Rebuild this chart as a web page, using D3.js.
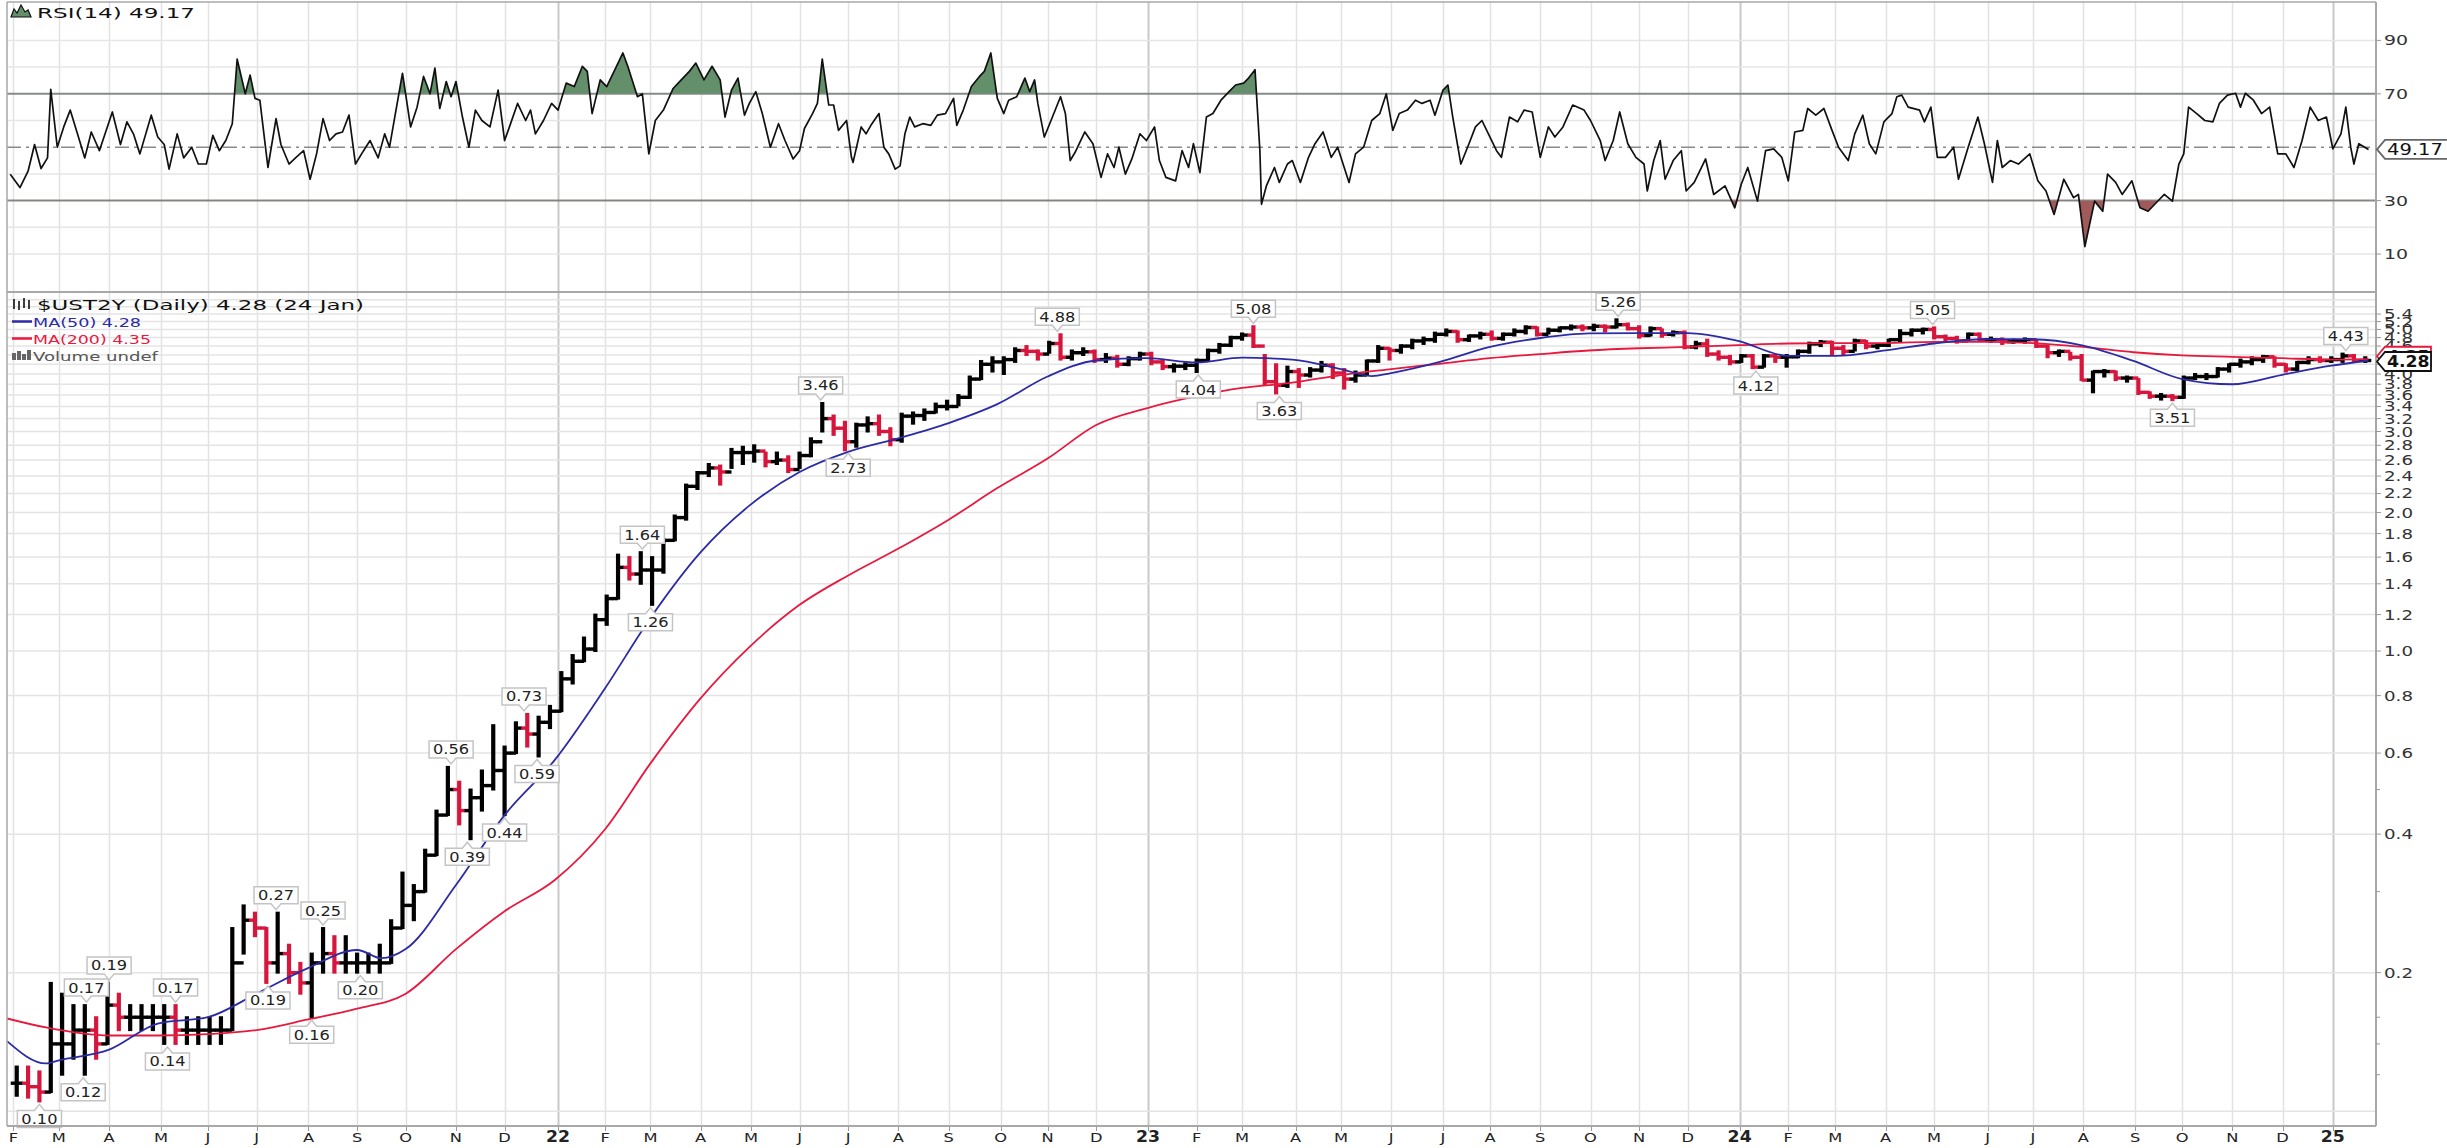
<!DOCTYPE html>
<html><head><meta charset="utf-8">
<script src="https://cdn.jsdelivr.net/npm/d3@7"></script>
<style>body{margin:0;background:#fff}svg{display:block}text{font-family:"DejaVu Sans",Verdana,sans-serif}</style>
</head><body>
<svg id="c" width="2447" height="1148"></svg>
<script>
// ---------------- DATA ----------------
// weekly bars: week i starts on weekStart + 7*i days
const weekStart = "2021-02-01";
const weekHigh = [
.125,.125,.122,.19,.18,.17,.17,.16,.19,.18,
.17,.17,.17,.17,.17,.16,.16,.16,.16,.25,
.28,.27,.25,.27,.23,.21,.22,.25,.24,.24,
.22,.22,.23,.26,.33,.31,.37,.45,.56,.52,
.50,.55,.69,.62,.70,.73,.72,.76,.90,.98,
1.07,1.20,1.32,1.62,1.60,1.64,1.60,1.75,1.97,2.30,
2.45,2.55,2.53,2.75,2.78,2.80,2.70,2.70,2.65,2.70,
2.90,3.46,3.25,3.15,3.12,3.22,3.25,3.05,3.28,3.30,
3.35,3.45,3.50,3.60,3.95,4.27,4.35,4.35,4.55,4.60,
4.50,4.70,4.88,4.50,4.55,4.50,4.42,4.38,4.35,4.45,
4.45,4.28,4.20,4.22,4.30,4.52,4.65,4.82,4.90,5.08,
4.40,4.20,4.15,4.10,4.12,4.25,4.20,4.10,4.05,4.28,
4.60,4.55,4.62,4.75,4.80,4.92,5.00,4.95,4.85,4.92,
4.95,4.90,5.00,5.08,5.05,5.02,5.05,5.10,5.10,5.12,
5.10,5.26,5.15,5.08,5.05,5.00,4.95,4.95,4.70,4.75,
4.48,4.38,4.40,4.40,4.40,4.40,4.40,4.50,4.68,4.72,
4.70,4.60,4.75,4.72,4.65,4.75,4.98,5.00,5.02,5.05,
4.85,4.82,4.90,4.90,4.80,4.78,4.75,4.78,4.72,4.60,
4.50,4.45,4.40,4.05,4.08,4.05,3.95,3.90,3.65,3.62,
3.60,3.95,4.00,4.00,4.12,4.20,4.30,4.35,4.38,4.35,
4.20,4.25,4.35,4.35,4.35,4.43,4.40,4.35];
const weekLow = [
.108,.107,.105,.11,.12,.13,.12,.13,.14,.15,
.15,.15,.15,.14,.14,.14,.14,.14,.14,.15,
.22,.24,.19,.20,.19,.18,.16,.20,.20,.20,
.20,.20,.20,.21,.25,.26,.30,.36,.44,.42,
.39,.45,.50,.44,.60,.62,.59,.68,.74,.85,
.95,1.00,1.14,1.30,1.43,1.40,1.26,1.48,1.74,1.93,
2.25,2.40,2.30,2.50,2.55,2.58,2.52,2.55,2.45,2.50,
2.65,3.00,2.95,2.73,2.78,3.00,2.95,2.80,2.85,3.12,
3.18,3.30,3.35,3.42,3.55,3.90,4.05,4.00,4.25,4.40,
4.30,4.45,4.30,4.30,4.40,4.25,4.25,4.15,4.18,4.30,
4.20,4.10,4.05,4.10,4.04,4.28,4.45,4.60,4.75,4.58,
3.80,3.63,3.75,3.75,3.95,4.05,3.92,3.72,3.85,3.98,
4.25,4.30,4.45,4.55,4.65,4.70,4.85,4.70,4.72,4.78,
4.75,4.75,4.85,4.90,4.85,4.90,4.95,5.00,4.98,4.98,
4.95,5.05,5.00,4.80,4.85,4.82,4.85,4.55,4.55,4.38,
4.30,4.20,4.25,4.12,4.15,4.25,4.15,4.35,4.45,4.60,
4.40,4.40,4.50,4.55,4.55,4.60,4.70,4.85,4.90,4.78,
4.70,4.68,4.72,4.72,4.70,4.65,4.68,4.68,4.58,4.35,
4.38,4.30,3.88,3.65,3.95,3.88,3.85,3.62,3.55,3.52,
3.51,3.55,3.90,3.90,3.95,4.05,4.15,4.20,4.25,4.15,
4.05,4.08,4.22,4.25,4.25,4.25,4.25,4.25];
const weekClose = [
.115,.113,.11,.14,.14,.15,.15,.14,.17,.16,
.16,.16,.16,.16,.15,.15,.15,.15,.15,.21,
.26,.25,.21,.22,.20,.19,.21,.22,.21,.21,
.21,.21,.21,.25,.28,.30,.36,.44,.50,.45,
.48,.51,.55,.60,.68,.66,.70,.74,.87,.95,
1.01,1.17,1.30,1.52,1.47,1.50,1.50,1.74,1.95,2.28,
2.44,2.50,2.45,2.70,2.70,2.72,2.58,2.60,2.48,2.66,
2.85,3.20,3.05,2.85,3.10,3.12,3.00,2.88,3.24,3.25,
3.30,3.40,3.40,3.56,3.90,4.20,4.25,4.30,4.50,4.48,
4.42,4.66,4.35,4.45,4.47,4.30,4.33,4.20,4.32,4.42,
4.25,4.15,4.16,4.18,4.28,4.50,4.62,4.80,4.86,4.60,
3.85,3.78,4.05,3.98,4.08,4.18,4.02,3.90,3.98,4.27,
4.55,4.50,4.60,4.72,4.75,4.88,4.95,4.75,4.84,4.88,
4.78,4.88,4.95,5.05,4.88,4.98,5.04,5.06,5.04,5.08,
5.06,5.12,5.02,4.85,5.02,4.88,4.92,4.58,4.65,4.42,
4.35,4.25,4.38,4.14,4.38,4.35,4.36,4.48,4.65,4.69,
4.55,4.48,4.72,4.60,4.62,4.75,4.90,4.98,5.00,4.82,
4.78,4.72,4.88,4.75,4.75,4.70,4.72,4.75,4.60,4.45,
4.48,4.35,3.88,4.05,4.05,3.92,3.92,3.65,3.58,3.58,
3.56,3.92,3.95,3.95,4.10,4.20,4.25,4.30,4.36,4.20,
4.10,4.24,4.30,4.28,4.30,4.38,4.28,4.28];

// moving averages
const ma50Dates = ["2021-01-28","2021-02-21","2021-03-01","2021-04-01","2021-05-01","2021-06-01","2021-07-01","2021-08-01","2021-09-01","2021-09-16","2021-10-01","2021-11-01","2021-12-01","2022-01-01","2022-02-01","2022-03-01","2022-04-01","2022-05-01","2022-06-01","2022-07-01","2022-08-01","2022-09-01","2022-10-01","2022-11-01","2022-12-01","2023-01-01","2023-02-01","2023-03-01","2023-04-01","2023-05-01","2023-05-20","2023-06-01","2023-07-01","2023-08-01","2023-09-01","2023-10-01","2023-11-01","2023-12-01","2024-01-01","2024-02-01","2024-03-01","2024-04-01","2024-05-01","2024-06-01","2024-07-01","2024-08-01","2024-09-01","2024-10-01","2024-11-01","2024-12-01","2025-01-01","2025-01-24"];
const ma50Values = [.142,.127,.129,.136,.155,.160,.180,.204,.224,.215,.225,.31,.44,.58,.83,1.18,1.64,2.07,2.45,2.71,2.90,3.13,3.44,3.95,4.28,4.33,4.24,4.34,4.30,4.10,3.96,4.02,4.25,4.58,4.79,4.90,4.91,4.91,4.72,4.38,4.38,4.50,4.66,4.76,4.76,4.61,4.27,3.90,3.80,3.98,4.17,4.28];
const ma200Dates = ["2021-01-28","2021-02-21","2021-04-01","2021-05-01","2021-06-01","2021-07-01","2021-08-01","2021-09-01","2021-10-01","2021-11-01","2021-12-01","2022-01-01","2022-02-01","2022-03-01","2022-04-01","2022-05-01","2022-06-01","2022-07-01","2022-08-01","2022-09-01","2022-10-01","2022-11-01","2022-12-01","2023-01-01","2023-02-01","2023-03-01","2023-04-01","2023-05-01","2023-06-01","2023-07-01","2023-08-01","2023-09-01","2023-10-01","2023-11-01","2023-12-01","2024-01-01","2024-02-01","2024-03-01","2024-04-01","2024-05-01","2024-06-01","2024-07-01","2024-08-01","2024-09-01","2024-10-01","2024-11-01","2024-12-01","2025-01-01","2025-01-24"];
const ma200Values = [.159,.152,.146,.146,.147,.150,.158,.167,.180,.225,.272,.318,.41,.57,.79,1.02,1.26,1.46,1.67,1.93,2.26,2.62,3.10,3.37,3.58,3.73,3.83,3.98,4.10,4.21,4.33,4.42,4.50,4.55,4.58,4.62,4.66,4.67,4.67,4.70,4.70,4.67,4.58,4.46,4.39,4.36,4.33,4.30,4.31];

// RSI(14): day offsets from rsiStart, and values
const rsiStart = "2021-01-28";
const rsiDay = [2,8,13,17,21,25,27,31,35,39,43,48,52,57,65,70,74,78,82,89,93,97,100,105,109,114,118,123,127,131,135,139,142,147,150,153,156,161,166,169,174,178,183,187,191,195,199,203,207,211,215,220,224,229,233,236,240,244,249,253,257,261,264,267,271,274,277,281,285,289,293,298,303,307,310,315,320,323,326,331,336,340,345,350,355,358,361,366,370,375,380,383,389,392,396,400,405,411,416,421,425,430,435,440,443,447,451,455,458,462,466,471,476,480,485,
489,492,497,500,503,507,510,513,518,521,522,527,530,533,538,541,544,548,551,554,557,560,565,570,574,579,584,586,590,595,600,603,607,611,615,618,623,628,631,634,636,640,645,650,653,656,659,665,670,675,679,683,686,690,694,699,703,708,711,715,721,725,729,732,736,740,744,749,754,758,763,766,770,773,774,777,782,785,790,793,798,803,807,812,817,821,828,832,837,842,847,851,855,859,864,869,873,878,881,886,889,892,897,902,906,910,914,919,922,927,932,936,941,946,951,955,960,966,973,977,
983,986,991,995,1000,1005,1010,1012,1016,1020,1023,1028,1033,1036,1041,1048,1053,1060,1066,1070,1074,1080,1085,1090,1095,1099,1103,1108,1111,1116,1121,1126,1130,1136,1140,1145,1149,1153,1158,1163,1166,1169,1173,1180,1183,1187,1191,1196,1201,1204,1210,1216,1220,1225,1228,1231,1236,1241,1248,1253,1258,1263,1269,1275,1278,1282,1288,1293,1296,1301,1305,1311,1316,1321,1326,1331,1336,1340,1343,1346,1351,1356,1361,1365,1370,1375,1378,1381,1386,1391,1396,1401,1406,1411,1416,1421,1426,1431,1435,1440,1443,1446,1448,1451,1457];
const rsiValue = [39.9,34.9,41,51,42,46,71.7,50,57.6,63.9,56,46,55.7,48.7,63.2,51,59.5,55,47.5,62,53.8,51,41.8,55,46,50,43.7,43.7,54.4,48.7,52.5,58.8,83,70,77,68.3,67.6,42.4,60.7,51,43.7,46,48.7,38,47.5,60.7,52.5,55,55.7,62,43.7,48.7,52.5,46,55,50,63.9,77.7,57.6,65,76.5,70,79.6,64.5,74.6,68.9,74.6,61.3,50,63.9,60,57.6,71.4,52.5,57.6,66.4,60,63.9,55,60,66.4,63.9,74,72.7,80.3,78.4,62.6,75.2,72.7,79,85.3,80.3,68.9,70,47.5,60,63.9,72,75.2,78.4,81.5,75.2,80.3,75.2,61.3,71.4,75.9,62,66.4,70.8,62.6,50,58.8,52.5,45.6,
48.7,57,62.6,66.4,83,65.8,65.8,56.3,60,46.2,44.3,57.6,55,58.2,62.6,50,47.5,41.8,43,55,61.3,57.6,58.8,58.2,62,62.6,68.3,58.2,63.9,72.7,76.5,78.4,85.3,68.3,62.6,67.6,68.9,75.9,70.8,75.2,66.4,53.8,61.3,68.9,62.6,45,48.1,55.7,51.3,38.7,47.5,42.4,50,39.9,45.6,55,52.5,57.6,45,38.7,37.4,48.7,42.4,51.3,40.5,61.3,62.6,67.6,70.8,73.3,74,75.9,79,48.7,28.6,35.5,42.4,36.8,43.7,45,36.8,46.2,51.3,55.7,46.2,50,36.8,47.5,50,60,62.6,70,56.3,62.6,63.9,67.6,66.4,67.6,62,71.4,73.3,61.3,43.7,51.3,57.6,60,55,48.7,46.2,61.3,59.5,63.9,63.2,46.2,57.6,53.8,57.6,65.8,63.9,60,
52.5,45,52.5,63.2,51.3,46.2,43.7,33.6,45,52.5,38,45,48.7,33.6,36.8,45.6,32.3,35.5,27.3,36.1,42.4,29.8,48.7,49.4,46.2,37.4,55.7,56.3,64.5,62,64.5,56.3,50,45,55,62,51.3,47.5,59.5,62.6,68.9,69.5,65,63.9,59.5,65,46.2,46.2,50,38,50,61.3,51.3,36.8,52.5,42.4,45,43.7,47.5,37.4,33.6,24.8,38,31.1,32.3,12.8,29.8,26,39.9,36.8,32.3,37.4,27.3,26,29.2,32.3,29.8,43.7,47.5,65,62.6,60,59.5,66.4,69.5,70.2,65,70.2,67.6,62.6,65,47.5,47.5,42.4,52.5,65,60,61.3,49.4,55,65,50,43.7,51.3,49.17];

// labelled swing points
const annDates = ["2021-02-17","2021-03-16","2021-03-18","2021-04-01","2021-05-07","2021-05-12","2021-07-08","2021-07-13","2021-08-04","2021-08-11","2021-09-03","2021-10-29","2021-11-08","2021-12-01","2021-12-13","2021-12-21","2022-02-24","2022-03-01","2022-06-14","2022-07-01","2022-11-07","2023-02-02","2023-03-08","2023-03-24","2023-10-19","2024-01-12","2024-04-30","2024-09-25","2025-01-10"];
const annValues = [0.10,0.12,0.17,0.19,0.14,0.17,0.19,0.27,0.16,0.25,0.20,0.56,0.39,0.44,0.73,0.59,1.64,1.26,3.46,2.73,4.88,4.04,5.08,3.63,5.26,4.12,5.05,3.51,4.43];
const annSide = ["low","low","high","high","low","high","low","high","low","high","low","high","low","low","high","low","high","low","high","low","high","low","high","low","high","low","high","low","high"];

// axis ticks
const priceLabels = [0.2,0.4,0.6,0.8,1.0,1.2,1.4,1.6,1.8,2.0,2.2,2.4,2.6,2.8,3.0,3.2,3.4,3.6,3.8,4.0,4.2,4.4,4.6,4.8,5.0,5.2,5.4];
const priceGrid = [0.1,0.2,0.4,0.6,0.8,1.0,1.2,1.4,1.6,1.8,2.0,2.2,2.4,2.6,2.8,3.0,3.2,3.4,3.6,3.8,4.0,4.2,4.4,4.6,4.8,5.0,5.2,5.4,5.6,5.8];
const priceMinor = [0.12,0.14,0.16,0.3,0.5];
const rsiLabels = [10,30,70,90];
const rsiGrid = [10,20,40,60,80,90];
const monthLetters = ["J","F","M","A","M","J","J","A","S","O","N","D"];
const lastClose = 4.28, lastMA50 = 4.28, lastMA200 = 4.35, lastRSI = 49.17;

// ---------------- DRAW ----------------
const parse = d3.timeParse("%Y-%m-%d");
const svg = d3.select("#c");
const L = 7, R = 2376, rTop = 2, mid = 292, pBot = 1126;
const x = d3.scaleTime().domain([parse("2021-01-28"), parse("2025-01-28")]).range([7, 2375]);
const yP = d3.scaleLog().domain([0.0933, 6.03]).range([1125, 292]);
const yR = d3.scaleLinear().domain([0, 100]).range([280.7, 13.7]);

function stretch(sel, f) {
  sel.each(function () {
    const w = this.getComputedTextLength();
    this.setAttribute("textLength", w * f);
    this.setAttribute("lengthAdjust", "spacingAndGlyphs");
  });
}

const defs = svg.append("defs");
defs.append("clipPath").attr("id", "cpP").append("rect").attr("x", L).attr("y", mid).attr("width", R - L).attr("height", pBot - mid);
defs.append("clipPath").attr("id", "cpR").append("rect").attr("x", L).attr("y", rTop).attr("width", R - L).attr("height", mid - rTop);
defs.append("clipPath").attr("id", "cpOver").append("rect").attr("x", L).attr("y", rTop).attr("width", R - L).attr("height", yR(70) - rTop);
defs.append("clipPath").attr("id", "cpUnder").append("rect").attr("x", L).attr("y", yR(30)).attr("width", R - L).attr("height", mid - yR(30));
defs.append("clipPath").attr("id", "cpPage").append("rect").attr("x", 0).attr("y", 0).attr("width", 2447).attr("height", 1148);

svg.append("rect").attr("width", 2447).attr("height", 1148).attr("fill", "#fff");

// month gridlines
const monthStarts = d3.timeMonth.range(parse("2021-02-01"), parse("2025-01-28")).map(m => {
  let d = new Date(m);
  if (d.getMonth() === 0) d = d3.timeDay.offset(d, 1);
  while (d.getDay() === 0 || d.getDay() === 6) d = d3.timeDay.offset(d, 1);
  return { d, m: m.getMonth(), y: m.getFullYear() };
});
const grid = svg.append("g");
monthStarts.forEach(ms => {
  const xx = Math.round(x(ms.d)) + 0.5;
  const col = ms.m === 0 ? "#c9c9c9" : "#e2e2e2";
  grid.append("line").attr("x1", xx).attr("x2", xx).attr("y1", rTop).attr("y2", pBot).attr("stroke", col).attr("stroke-width", ms.m === 0 ? 2 : 1.5);
  grid.append("line").attr("x1", xx).attr("x2", xx).attr("y1", pBot).attr("y2", pBot + 5).attr("stroke", "#999").attr("stroke-width", 1);
});
rsiGrid.forEach(v => grid.append("line").attr("x1", L).attr("x2", R).attr("y1", yR(v)).attr("y2", yR(v)).attr("stroke", "#e6e6e6").attr("stroke-width", 1.5));
priceGrid.forEach(v => grid.append("line").attr("x1", L).attr("x2", R).attr("y1", yP(v)).attr("y2", yP(v)).attr("stroke", "#e4e4e4").attr("stroke-width", 1.5));

// RSI reference lines
const rg = svg.append("g");
[70, 30].forEach(v => rg.append("line").attr("x1", L).attr("x2", R).attr("y1", yR(v)).attr("y2", yR(v)).attr("stroke", "#8a8a8a").attr("stroke-width", 2));
rg.append("line").attr("x1", L).attr("x2", R).attr("y1", yR(50)).attr("y2", yR(50)).attr("stroke", "#8a8a8a").attr("stroke-width", 1.5).attr("stroke-dasharray", "14,5,3,5");

// RSI series
const rsiPts = rsiDay.map((d, i) => ({ date: d3.timeDay.offset(parse(rsiStart), d), v: rsiValue[i] }));
const rsiG = svg.append("g").attr("clip-path", "url(#cpR)");
rsiG.append("path").datum(rsiPts).attr("clip-path", "url(#cpOver)")
  .attr("d", d3.area().x(d => x(d.date)).y0(yR(70)).y1(d => yR(d.v)))
  .attr("fill", "#63906a");
rsiG.append("path").datum(rsiPts).attr("clip-path", "url(#cpUnder)")
  .attr("d", d3.area().x(d => x(d.date)).y0(yR(30)).y1(d => yR(d.v)))
  .attr("fill", "#a15a5a");
rsiG.append("path").datum(rsiPts)
  .attr("d", d3.line().x(d => x(d.date)).y(d => yR(d.v)))
  .attr("fill", "none").attr("stroke", "#111").attr("stroke-width", 1.7).attr("stroke-linejoin", "round");

// price bars
const w0 = parse(weekStart);
const weekDates = weekClose.map((c, i) => d3.timeDay.offset(w0, 7 * i + 2));
const barG = svg.append("g").attr("clip-path", "url(#cpP)");
weekClose.forEach((c, i) => {
  const xc = x(weekDates[i]);
  const prev = i ? weekClose[i - 1] : c;
  const col = c < prev ? "#d6163c" : "#000";
  barG.append("line").attr("x1", xc).attr("x2", xc).attr("y1", yP(weekLow[i]) + 1).attr("y2", yP(weekHigh[i]) - 1).attr("stroke", col).attr("stroke-width", 4.2);
  barG.append("line").attr("x1", xc - 6).attr("x2", xc).attr("y1", yP(prev)).attr("y2", yP(prev)).attr("stroke", col).attr("stroke-width", 3.4);
  barG.append("line").attr("x1", xc).attr("x2", xc + 6).attr("y1", yP(c)).attr("y2", yP(c)).attr("stroke", col).attr("stroke-width", 3.4);
});

// moving averages
const maLine = d3.line().x(d => x(d.date)).y(d => yP(d.v)).curve(d3.curveMonotoneX);
const ma200 = ma200Dates.map((d, i) => ({ date: parse(d), v: ma200Values[i] }));
const ma50 = ma50Dates.map((d, i) => ({ date: parse(d), v: ma50Values[i] }));
barG.append("path").datum(ma200).attr("d", maLine).attr("fill", "none").attr("stroke", "#e8193f").attr("stroke-width", 1.8);
barG.append("path").datum(ma50).attr("d", maLine).attr("fill", "none").attr("stroke", "#2b2ba6").attr("stroke-width", 1.8);

// annotations
const annG = svg.append("g");
annDates.forEach((ds, i) => {
  const d = parse(ds);
  const wi = Math.max(0, Math.min(weekClose.length - 1, Math.floor(d3.timeDay.count(w0, d) / 7)));
  const isHigh = annSide[i] === "high";
  const anchorV = isHigh ? weekHigh[wi] : weekLow[wi];
  const cx = x(d), ay = yP(anchorV);
  const g = annG.append("g");
  const t = g.append("text").attr("x", cx).attr("text-anchor", "middle").attr("font-size", 13.5).attr("fill", "#222").text(annValues[i].toFixed(2));
  stretch(t, 1.2);
  const tw = +t.attr("textLength");
  const bw = tw + 8, bh = 17;
  let top, pathD;
  if (isHigh) {
    const bottom = ay - 9; top = bottom - bh;
    pathD = `M${cx - bw / 2},${top}H${cx + bw / 2}V${bottom}H${cx + 5}L${cx},${ay - 3}L${cx - 5},${bottom}H${cx - bw / 2}Z`;
  } else {
    top = ay + 9; const bottom = top + bh;
    pathD = `M${cx - bw / 2},${top}H${cx - 5}L${cx},${ay + 3}L${cx + 5},${top}H${cx + bw / 2}V${bottom}H${cx - bw / 2}Z`;
  }
  g.insert("path", "text").attr("d", pathD).attr("fill", "#fff").attr("stroke", "#c4c4c4").attr("stroke-width", 1.5);
  t.attr("y", top + bh / 2 + 5);
});

// frame
const fr = svg.append("g").attr("fill", "none").attr("stroke", "#a8a8a8");
fr.append("line").attr("x1", L).attr("x2", R).attr("y1", rTop).attr("y2", rTop).attr("stroke-width", 1.5);
fr.append("line").attr("x1", L).attr("x2", R).attr("y1", mid).attr("y2", mid).attr("stroke-width", 2);
fr.append("line").attr("x1", L).attr("x2", R).attr("y1", pBot).attr("y2", pBot).attr("stroke-width", 2);
fr.append("line").attr("x1", L).attr("x2", L).attr("y1", rTop).attr("y2", pBot).attr("stroke-width", 1.5);
fr.append("line").attr("x1", R).attr("x2", R).attr("y1", rTop).attr("y2", pBot).attr("stroke-width", 2);

// right axes
const ax = svg.append("g");
priceMinor.forEach(v => ax.append("line").attr("x1", R).attr("x2", R + 4).attr("y1", yP(v)).attr("y2", yP(v)).attr("stroke", "#999"));
priceLabels.forEach(v => {
  ax.append("line").attr("x1", R).attr("x2", R + 5).attr("y1", yP(v)).attr("y2", yP(v)).attr("stroke", "#999");
  const t = ax.append("text").attr("x", R + 8).attr("y", yP(v) + 5).attr("font-size", 13.5).attr("fill", "#333").text(v.toFixed(1));
  stretch(t, 1.35);
});
rsiLabels.forEach(v => {
  ax.append("line").attr("x1", R).attr("x2", R + 5).attr("y1", yR(v)).attr("y2", yR(v)).attr("stroke", "#999");
  const t = ax.append("text").attr("x", R + 8).attr("y", yR(v) + 5).attr("font-size", 14).attr("fill", "#333").text(v);
  stretch(t, 1.35);
});

// value flags
function flag(yc, txt, stroke, bold, w, fs, f) {
  const g = svg.append("g").attr("clip-path", "url(#cpPage)");
  const h = 19, x0 = R + 1, x1 = x0 + 8, x2 = x1 + w;
  g.append("path").attr("d", `M${x0},${yc}L${x1},${yc - h / 2}H${x2}V${yc + h / 2}H${x1}Z`).attr("fill", "#fff").attr("stroke", stroke).attr("stroke-width", 1.8);
  const t = g.append("text").attr("x", x1 + 2).attr("y", yc + 5.5).attr("font-size", fs).attr("font-weight", bold ? "bold" : "normal").attr("fill", "#111").text(txt);
  stretch(t, f);
}
flag(yP(lastMA200) - 1, lastMA200.toFixed(2), "#e8193f", true, 46, 15, 1.15);
flag(yP(lastClose) + 1, lastClose.toFixed(2), "#111", true, 46, 15, 1.15);
flag(yR(lastRSI), lastRSI.toFixed(2), "#666", false, 70, 15, 1.3);

// x axis labels
const xl = svg.append("g");
monthStarts.forEach(ms => {
  const isYear = ms.m === 0;
  const t = xl.append("text").attr("x", x(ms.d)).attr("y", 1142).attr("text-anchor", "middle")
    .attr("font-size", isYear ? 15 : 13).attr("font-weight", isYear ? "bold" : "normal").attr("fill", "#222")
    .text(isYear ? String(ms.y).slice(2) : monthLetters[ms.m]);
  stretch(t, isYear ? 1.15 : 1.25);
});

// legends
const lg = svg.append("g");
lg.append("path").attr("d", "M11,17L14,9L17,13L21,5L25,12L28,10L31,17Z").attr("fill", "#63906a").attr("stroke", "#111").attr("stroke-width", 1.2);
lg.append("text").attr("x", 37).attr("y", 17.5).attr("font-size", 14).attr("fill", "#111").text(`RSI(14) ${lastRSI.toFixed(2)}`)
  .attr("textLength", 158).attr("lengthAdjust", "spacingAndGlyphs");
const ic = lg.append("g").attr("stroke", "#111").attr("stroke-width", 1.6);
[[14, 299, 309], [19, 301, 310], [24, 298, 308], [29, 300, 309]].forEach(b => {
  ic.append("line").attr("x1", b[0]).attr("x2", b[0]).attr("y1", b[1]).attr("y2", b[2]);
});
lg.append("text").attr("x", 37).attr("y", 309.5).attr("font-size", 14).attr("fill", "#111").text(`$UST2Y (Daily) ${lastClose.toFixed(2)} (24 Jan)`)
  .attr("textLength", 327).attr("lengthAdjust", "spacingAndGlyphs");
lg.append("line").attr("x1", 12).attr("x2", 32).attr("y1", 321.5).attr("y2", 321.5).attr("stroke", "#2b2ba6").attr("stroke-width", 2.5);
lg.append("text").attr("x", 33).attr("y", 326.5).attr("font-size", 13).attr("fill", "#2b2ba6").text(`MA(50) ${lastMA50.toFixed(2)}`).attr("textLength", 108).attr("lengthAdjust", "spacingAndGlyphs");
lg.append("line").attr("x1", 12).attr("x2", 32).attr("y1", 338.5).attr("y2", 338.5).attr("stroke", "#e8193f").attr("stroke-width", 2.5);
lg.append("text").attr("x", 33).attr("y", 343.5).attr("font-size", 13).attr("fill", "#e8193f").text(`MA(200) ${lastMA200.toFixed(2)}`).attr("textLength", 118).attr("lengthAdjust", "spacingAndGlyphs");
[[12, 353], [17, 351], [22, 354], [27, 350]].forEach(b => lg.append("rect").attr("x", b[0]).attr("y", b[1]).attr("width", 4).attr("height", 360 - b[1]).attr("fill", "#666"));
lg.append("text").attr("x", 33).attr("y", 360.5).attr("font-size", 13).attr("fill", "#555").text("Volume undef").attr("textLength", 125).attr("lengthAdjust", "spacingAndGlyphs");
</script>
</body></html>
